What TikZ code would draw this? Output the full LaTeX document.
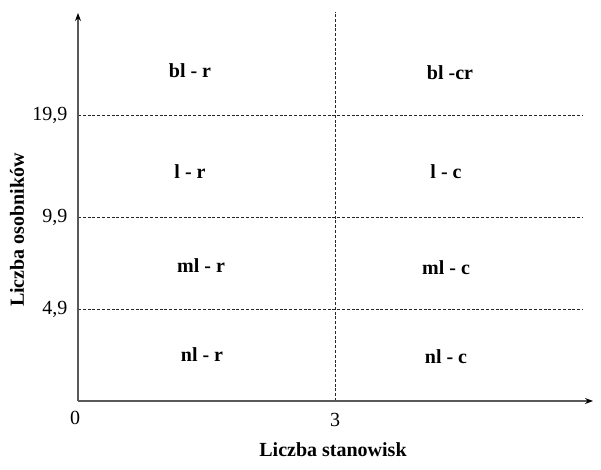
\documentclass[tikz,border=0pt]{standalone}
\usepackage{fontspec}
\setmainfont{Liberation Serif}
\usetikzlibrary{arrows.meta}
\begin{document}
\begin{tikzpicture}[x=1pt, y=1pt,
        axis/.style = {draw=black!65, line width=1.2pt, -{Stealth[length=8pt, width=6pt, black]}},
        grid/.style = {draw=black!85, line width=0.7pt, dash pattern=on 3pt off 1.8pt},
        cell/.style = {font=\fontsize{20}{23}\selectfont\bfseries},
        tick/.style = {font=\fontsize{20}{23}\selectfont}]
        \useasboundingbox (0,0) rectangle (601,469);
        % axes
        \coordinate (O) at (78,68);
        \coordinate (xend) at (593,68);
        \coordinate (yend) at (78,456);
        \coordinate (mid) at (335.5,68);
        \coordinate (midtop) at (335.5,457);
        \coordinate (h1) at (78,160);
        \coordinate (h1e) at (583,160);
        \coordinate (h2) at (78,252);
        \coordinate (h2e) at (583,252);
        \coordinate (h3) at (78,354);
        \coordinate (h3e) at (583,354);
        \draw[grid] (mid) -- (midtop);
        \draw[grid] (h1) -- (h1e);
        \draw[grid] (h2) -- (h2e);
        \draw[grid] (h3) -- (h3e);
        \draw[axis] (O) -- (xend);
        \draw[axis] (O) -- (yend);
        % ticks
        \node[tick] (t0) at (75,51) {0};
        \node[tick] (t3) at (335,49) {3};
        \node[tick, anchor=east] (t49) at (71,160) {4,9};
        \node[tick, anchor=east] (t99) at (71,252) {9,9};
        \node[tick, anchor=east] (t199) at (71,354) {19,9};
        % axis titles
        \node[cell] (xlab) at (333,19) {Liczba stanowisk};
        \node[cell, rotate=90] (ylab) at (17,239) {Liczba osobników};
        % cells
        \node[cell] (blr) at (190,398) {bl - r};
        \node[cell] (blc) at (450,396) {bl -cr};
        \node[cell] (lr) at (190,297) {l - r};
        \node[cell] (lc) at (446,297) {l - c};
        \node[cell] (mlr) at (201,203) {ml - r};
        \node[cell] (mlc) at (446,201) {ml - c};
        \node[cell] (nlr) at (202,114) {nl - r};
        \node[cell] (nlc) at (446,112) {nl - c};
\end{tikzpicture}
\end{document}
